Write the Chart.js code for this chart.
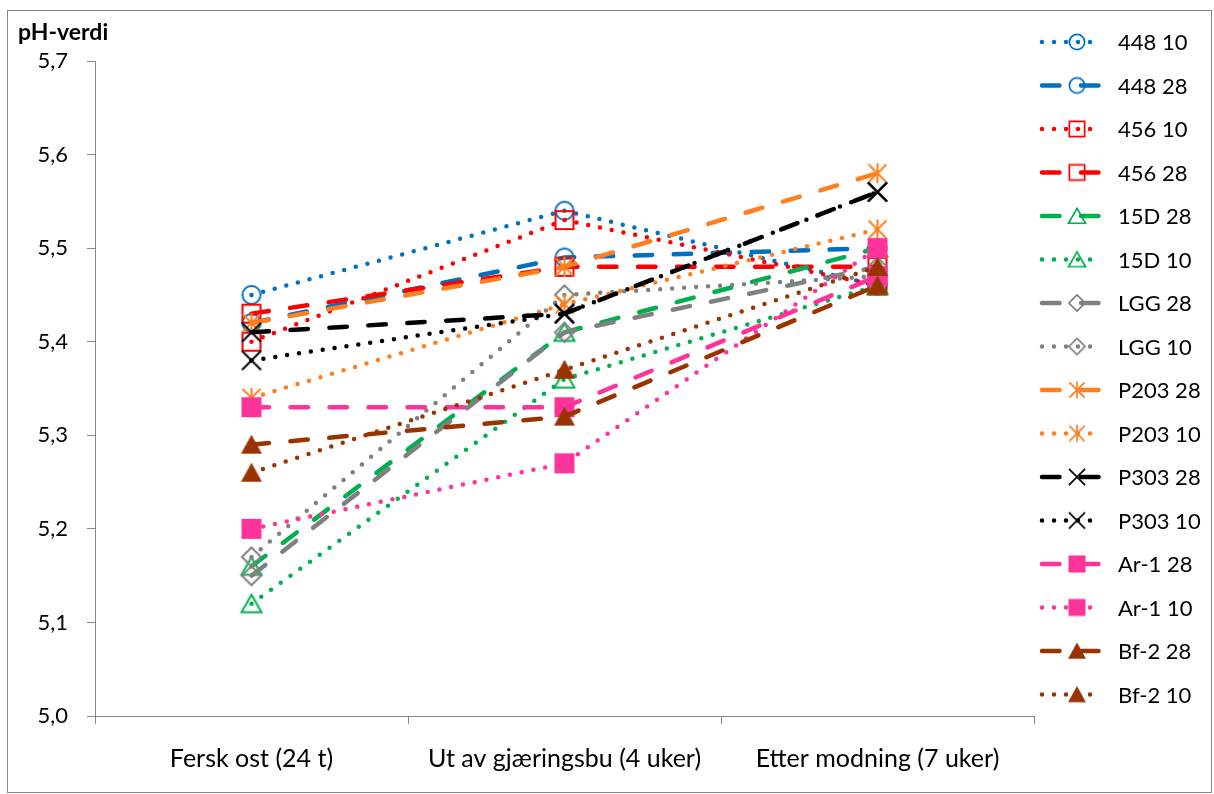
<!DOCTYPE html>
<html>
<head>
<meta charset="utf-8">
<script src="https://cdn.jsdelivr.net/npm/chart.js@4/dist/chart.umd.min.js"></script>
<style>
  html, body { margin: 0; padding: 0; background: #fff; }
  #wrap { width: 1214px; height: 794px; }
</style>
</head>
<body>
<div id="wrap"><canvas id="c" width="1214" height="794"></canvas></div>
<script>
// Sampling stages
const categories = ['Fersk ost (24 t)', 'Ut av gjæringsbu (4 uker)', 'Etter modning (7 uker)'];

// Value axis
const yTicks = [5.0, 5.1, 5.2, 5.3, 5.4, 5.5, 5.6, 5.7];
const yTickLabels = ['5,0', '5,1', '5,2', '5,3', '5,4', '5,5', '5,6', '5,7'];
const yTitle = 'pH-verdi';

// pH per culture / temperature
const ph448_10  = [5.45, 5.54, 5.46];
const ph448_28  = [5.42, 5.49, 5.50];
const ph456_10  = [5.40, 5.53, 5.46];
const ph456_28  = [5.43, 5.48, 5.48];
const ph15D_28  = [5.16, 5.41, 5.50];
const ph15D_10  = [5.12, 5.36, 5.46];
const phLGG_28  = [5.15, 5.41, 5.48];
const phLGG_10  = [5.17, 5.45, 5.47];
const phP203_28 = [5.42, 5.48, 5.58];
const phP203_10 = [5.34, 5.44, 5.52];
const phP303_28 = [5.41, 5.43, 5.56];
const phP303_10 = [5.38, 5.43, 5.56];
const phAr1_28  = [5.33, 5.33, 5.47];
const phAr1_10  = [5.20, 5.27, 5.50];
const phBf2_28  = [5.29, 5.32, 5.46];
const phBf2_10  = [5.26, 5.37, 5.48];

const BLUE = '#0070C0', RED = '#FF0000', GREEN = '#00B050', GRAY = '#808080';
const ORANGE = '#FF7F1E', BLACK = '#000000', PINK = '#FF3399', BROWN = '#993300';

const DASH = [17.5, 21.5];
const DOT = [0, 12];
const LINE_W = 4.5;
const FONT = "Lato, 'Open Sans', sans-serif";

// Marker glyphs drawn onto small canvases (used as point styles and in the legend)
function makeMarker(kind, color, scale) {
  const s = scale || 1;
  const size = Math.round(30 * s);
  const cv = document.createElement('canvas');
  cv.width = size; cv.height = size;
  const g = cv.getContext('2d');
  g.translate(size / 2, size / 2);
  g.scale(s, s);
  g.strokeStyle = color;
  g.fillStyle = color;
  g.lineWidth = 2;
  g.beginPath();
  switch (kind) {
    case 'circle':
      g.arc(0, 0, 9, 0, Math.PI * 2); g.stroke(); break;
    case 'square':
      g.rect(-9, -9, 18, 18); g.stroke(); break;
    case 'squareFill':
      g.rect(-10, -10, 20, 20); g.fill(); break;
    case 'triangle':
      g.moveTo(0, -9); g.lineTo(10, 8.5); g.lineTo(-10, 8.5); g.closePath(); g.stroke(); break;
    case 'triangleFill':
      g.moveTo(0, -10); g.lineTo(10.5, 9); g.lineTo(-10.5, 9); g.closePath(); g.fill(); break;
    case 'diamond':
      g.moveTo(0, -9.5); g.lineTo(9.5, 0); g.lineTo(0, 9.5); g.lineTo(-9.5, 0); g.closePath(); g.stroke(); break;
    case 'star':
      g.moveTo(0, -10); g.lineTo(0, 10);
      g.moveTo(-9, -9); g.lineTo(9, 9);
      g.moveTo(9, -9); g.lineTo(-9, 9);
      g.stroke(); break;
    case 'cross':
      g.moveTo(-9.5, -9.5); g.lineTo(9.5, 9.5);
      g.moveTo(9.5, -9.5); g.lineTo(-9.5, 9.5);
      g.stroke(); break;
  }
  return cv;
}

const seriesDefs = [
  { label: '448 10',  data: ph448_10,  color: BLUE,   dash: DOT,  marker: 'circle' },
  { label: '448 28',  data: ph448_28,  color: BLUE,   dash: DASH, marker: 'circle' },
  { label: '456 10',  data: ph456_10,  color: RED,    dash: DOT,  marker: 'square' },
  { label: '456 28',  data: ph456_28,  color: RED,    dash: DASH, marker: 'square' },
  { label: '15D 28',  data: ph15D_28,  color: GREEN,  dash: DASH, marker: 'triangle' },
  { label: '15D 10',  data: ph15D_10,  color: GREEN,  dash: DOT,  marker: 'triangle' },
  { label: 'LGG 28',  data: phLGG_28,  color: GRAY,   dash: DASH, marker: 'diamond' },
  { label: 'LGG 10',  data: phLGG_10,  color: GRAY,   dash: DOT,  marker: 'diamond' },
  { label: 'P203 28', data: phP203_28, color: ORANGE, dash: DASH, marker: 'star' },
  { label: 'P203 10', data: phP203_10, color: ORANGE, dash: DOT,  marker: 'star' },
  { label: 'P303 28', data: phP303_28, color: BLACK,  dash: DASH, marker: 'cross' },
  { label: 'P303 10', data: phP303_10, color: BLACK,  dash: DOT,  marker: 'cross' },
  { label: 'Ar-1 28', data: phAr1_28,  color: PINK,   dash: DASH, marker: 'squareFill' },
  { label: 'Ar-1 10', data: phAr1_10,  color: PINK,   dash: DOT,  marker: 'squareFill' },
  { label: 'Bf-2 28', data: phBf2_28,  color: BROWN,  dash: DASH, marker: 'triangleFill' },
  { label: 'Bf-2 10', data: phBf2_10,  color: BROWN,  dash: DOT,  marker: 'triangleFill' }
];

const N = seriesDefs.length;
const datasets = seriesDefs.map((s, i) => ({
  label: s.label,
  data: s.data,
  borderColor: s.color,
  backgroundColor: s.color,
  borderWidth: LINE_W,
  borderDash: s.dash,
  borderCapStyle: 'round',
  borderJoinStyle: 'round',
  tension: 0,
  fill: false,
  pointStyle: makeMarker(s.marker, s.color, 1),
  pointRadius: 10,
  pointHoverRadius: 10,
  order: N - i,             // later series are painted on top
  legendMarker: makeMarker(s.marker, s.color, 0.85)
}));

// White background, outer frame, axis title and the line+marker legend
const decorPlugin = {
  id: 'decor',
  beforeDraw(chart) {
    const ctx = chart.ctx;
    ctx.save();
    ctx.fillStyle = '#ffffff';
    ctx.fillRect(0, 0, chart.width, chart.height);
    ctx.strokeStyle = '#888888';
    ctx.lineWidth = 1;
    ctx.strokeRect(7.5, 10.5, 1204, 782);
    ctx.restore();
  },
  afterDraw(chart) {
    const ctx = chart.ctx;
    ctx.save();
    ctx.fillStyle = '#000';
    ctx.font = 'bold 23px ' + FONT;
    ctx.textAlign = 'left';
    ctx.textBaseline = 'middle';
    ctx.fillText(yTitle, 18, 33);

    const x0 = 1042, x1 = 1101, mx = 1077, tx = 1118;
    chart.data.datasets.forEach((ds, i) => {
      const y = 42 + i * 43.5;
      ctx.save();
      ctx.strokeStyle = ds.borderColor;
      ctx.lineWidth = LINE_W;
      ctx.lineCap = 'round';
      ctx.setLineDash(ds.borderDash);
      ctx.beginPath();
      ctx.moveTo(x0, y);
      ctx.lineTo(x1, y);
      ctx.stroke();
      ctx.restore();
      const m = ds.legendMarker;
      ctx.drawImage(m, mx - m.width / 2, y - m.height / 2);
      ctx.fillStyle = '#000';
      ctx.font = '22px ' + FONT;
      ctx.textBaseline = 'middle';
      ctx.fillText(ds.label, tx, y + 1);
    });
    ctx.restore();
  }
};

new Chart(document.getElementById('c'), {
  type: 'line',
  data: { labels: categories, datasets },
  plugins: [decorPlugin],
  options: {
    responsive: false,
    animation: false,
    devicePixelRatio: 1,
    events: [],
    layout: { padding: { left: 0, top: 61, right: 180, bottom: 0 } },
    plugins: { legend: { display: false }, tooltip: { enabled: false } },
    scales: {
      x: {
        type: 'category',
        offset: true,
        grid: { offset: true, drawOnChartArea: false, drawTicks: true, tickLength: 8, color: '#868686', lineWidth: 1 },
        border: { color: '#868686', width: 1 },
        ticks: { color: '#000', font: { family: FONT, size: 25 }, padding: 20, maxRotation: 0, autoSkip: false },
        afterFit: s => { s.height = 78; }
      },
      y: {
        min: yTicks[0],
        max: yTicks[yTicks.length - 1],
        grid: { drawOnChartArea: false, drawTicks: true, tickLength: 8, color: '#868686', lineWidth: 1 },
        border: { color: '#868686', width: 1 },
        ticks: {
          stepSize: 0.1,
          color: '#000',
          font: { family: FONT, size: 22 },
          padding: 19,
          callback: v => {
            const k = yTicks.findIndex(t => Math.abs(t - v) < 1e-6);
            return k >= 0 ? yTickLabels[k] : '';
          }
        },
        afterFit: s => { s.width = 95; }
      }
    }
  }
});
</script>
</body>
</html>
